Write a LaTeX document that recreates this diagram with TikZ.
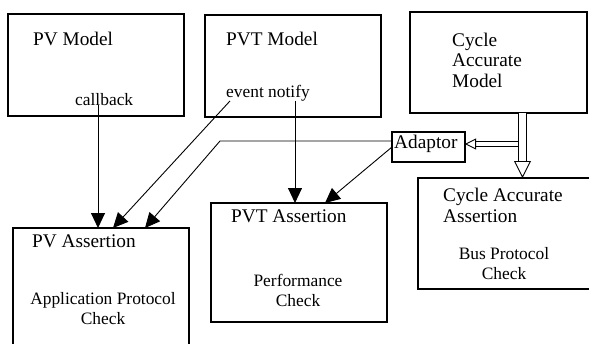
\documentclass[tikz,border=0pt]{standalone}
\usepackage{fontspec}
\setmainfont{Liberation Serif}
\usetikzlibrary{positioning,arrows.meta,calc}
\tikzset{box/.style={draw,line width=1.1pt,anchor=north west,inner sep=0pt,outer sep=0pt},
         ttl/.style={font=\fontsize{19.3}{20.5}\selectfont,inner sep=0pt,anchor=base west},
         lbl/.style={font=\fontsize{17.4}{20}\selectfont,inner sep=0pt,align=center,anchor=base},
         arr/.style={-{Triangle[width=14pt,length=15pt]},line width=0.9pt},
         hollow/.style={line width=0.9pt,double=white,-{Triangle[open,fill=white,width=#1,length=#1]}}}

\begin{document}
\begin{tikzpicture}[x=1pt,y=-1pt]
 \useasboundingbox (0,0) rectangle (589,343);
 % models
 \node[box,minimum width=176pt,minimum height=102pt] (pvm) at (8,14) {};
 \node[box,minimum width=176pt,minimum height=102pt] (pvtm) at (205,15) {};
 \node[box,minimum width=177pt,minimum height=101pt] (cam) at (410,12) {};
 \node[ttl] (pvmt) at (33,45) {PV Model};
 \node[ttl] (pvtmt) at (226,45) {PVT Model};
 \node[ttl,align=left] (camt) at (452,87) {Cycle\\Accurate\\Model};
 \node[lbl,anchor=base west] (cb) at (75,105) {callback};
 \node[lbl,anchor=base west] (ev) at (226,97) {event notify};
 % adaptor
 \node[box,minimum width=73pt,minimum height=30pt] (adp) at (392,132) {};
 \node[ttl] (adpt) at (394,148) {Adaptor};
 % assertions
 \node[box,minimum width=176pt,minimum height=122pt] (pva) at (13,228) {};
 \node[box,minimum width=176pt,minimum height=119pt] (pvta) at (211,203) {};
 \node[box,minimum width=177pt,minimum height=111pt] (caa) at (418,178) {};
 \node[ttl] (pvat) at (32,247) {PV Assertion};
 \node[lbl] (apc) at (103,324) {Application Protocol\\Check};
 \node[ttl] (pvtat) at (231,222) {PVT Assertion};
 \node[lbl] (pc) at (298,306) {Performance\\Check};
 \node[ttl,align=left] (caat) at (443,222) {Cycle Accurate\\Assertion};
 \node[lbl] (bpc) at (504,279) {Bus Protocol\\Check};
 % connectors
 \coordinate (cbv) at ([xshift=23pt]cb.south west);
 \coordinate (evv) at ([xshift=-15pt]ev.south east);
 \coordinate (adw) at ([yshift=6pt]adp.west);
 \coordinate (bend) at (adw -| 220,0);
 \coordinate (cav) at ([xshift=24pt]cam.south);
 \coordinate (hv) at ($(adp.east -| cav)+(-4.5,-3)$);
 \draw[arr] (cbv) -- (cbv |- pva.north);
 \draw[arr] (evv) -- (evv |- pvta.north);
 \draw[arr] ([xshift=4pt]ev.south west) -- ([xshift=12pt]pva.north);
 \draw[arr] (adw) -- (bend) -- ([xshift=44pt]pva.north);
 \draw[arr] (adp.west) -- ([xshift=26pt]pvta.north);
 \draw[hollow=11pt,double distance=4pt] (hv) -- ([yshift=3pt]adp.east);
 \draw[hollow=17pt,double distance=7pt] (cav) -- (cav |- caa.north);
\end{tikzpicture}
\end{document}
